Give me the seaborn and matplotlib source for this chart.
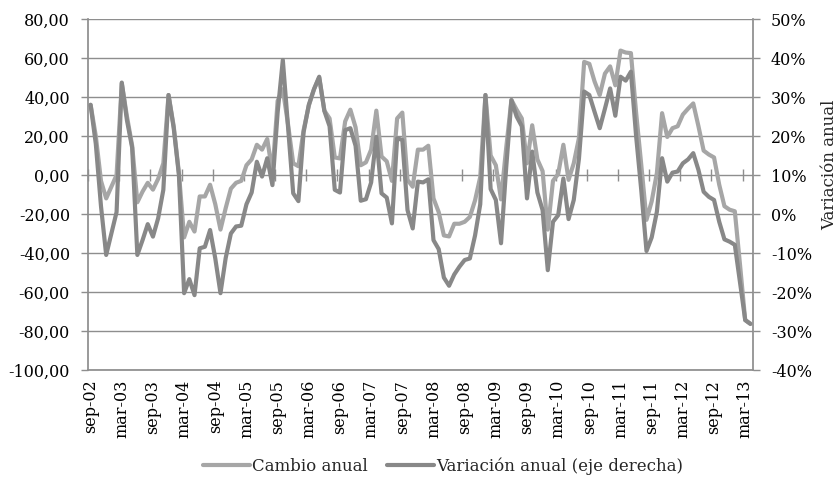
import matplotlib
matplotlib.use("Agg")
import matplotlib.pyplot as plt
import seaborn as sns
import pandas as pd
import numpy as np
from matplotlib.ticker import MultipleLocator, FuncFormatter

# ---------------- data ----------------
months = pd.date_range("2002-09-01", "2013-04-01", freq="MS")
categories = [d.strftime("%Y-%m") for d in months]

cambio_anual = [
    36, 20, -3, -12, -6, 0, 47, 30, 15, -14,
    -8.5, -4, -7.5, -2, 6, 41, 25, 1, -32, -24,
    -29, -11, -11, -5, -15, -28, -17, -7, -4, -3,
    5, 8, 15.5, 13, 18.5, 1, 38, 44, 26, 6,
    4.5, 23, 35.5, 44, 50, 33, 29, 9, 8.5, 27.5,
    33.5, 24.5, 5, 6.5, 13, 33, 9.5, 7, -3, 29,
    32, -2.5, -6, 13, 13, 15, -12, -19, -31, -31.5,
    -25, -25, -24, -21.5, -13, -1, 41, 10, 5, -12.5,
    14, 38.5, 33.5, 29, 6, 25.5, 8, 2, -28, -3,
    0.5, 15.5, -2.5, 6, 19, 58, 57, 48, 41, 52,
    55.7, 46, 63.8, 62.8, 62.5, 32, 5, -23, -13.5, 1,
    31.7, 19.5, 24, 25, 31, 34, 36.7, 25, 12.5, 10.5,
    9, -5, -16, -17.8, -18.6, -46, -74.4, -76.2,
]

variacion_anual = [
    28, 18, 2, -10.5, -5, 0.5, 33.7, 24, 17, -10.5,
    -6.7, -2.6, -5.8, -1.1, 6.2, 30.5, 22, 10, -20.3, -16.7,
    -20.8, -8.8, -8.4, -4.1, -11.4, -20.3, -11.3, -5, -3.2, -3,
    2.5, 5.5, 13.4, 9.6, 14.3, 7.4, 26, 39.5, 22.4, 5.3,
    3.3, 21, 28, 32, 35.2, 26.4, 22.5, 6.2, 5.5, 21.5,
    22, 17.5, 3.4, 3.8, 8.1, 19.8, 5.3, 4.2, -2.4, 19.4,
    19, 1, -3.7, 8.3, 8.1, 8.9, -6.7, -9, -16.3, -18.4,
    -15.5, -13.5, -11.8, -11.4, -5.5, 2.5, 30.5, 6.4, 3.6, -7.5,
    12, 29.2, 25, 22.5, 4, 16, 5.5, 1, -14.4, -2,
    -0.3, 9.1, -1.3, 3.6, 14.2, 31.4, 30.5, 26.2, 22, 27,
    32.2, 25.2, 35.2, 34.2, 36.5, 20, 6, -9.5, -6, 0.6,
    14.3, 8.3, 10.6, 10.9, 13, 14, 15.6, 11.3, 5.7, 4.4,
    3.6, -2, -6.5, -7.1, -7.9, -17.5, -27.2, -28.2,
]

tick_labels = ["sep-02", "mar-03", "sep-03", "mar-04", "sep-04", "mar-05",
               "sep-05", "mar-06", "sep-06", "mar-07", "sep-07", "mar-08",
               "sep-08", "mar-09", "sep-09", "mar-10", "sep-10", "mar-11",
               "sep-11", "mar-12", "sep-12", "mar-13"]

series_names = ["Cambio anual", "Variación anual (eje derecha)"]
right_title = "Variación anual"

# ---------------- style ----------------
LIGHT = "#a6a6a6"
DARK = "#888888"
GRID = "#8e8e8e"
FS = 11.5

sns.set_theme(style="white")
plt.rcParams['font.family'] = ['DejaVu Serif', 'DejaVu Sans']

df = pd.DataFrame({"idx": np.arange(len(categories)),
                   "cat": categories,
                   "cambio": cambio_anual,
                   "variacion": variacion_anual})

fig = plt.figure(figsize=(8.39, 4.86), dpi=100)
ax = fig.add_axes([88 / 839, 1 - 370 / 486, 665 / 839, 351 / 486])

sns.lineplot(data=df, x="idx", y="cambio", ax=ax, color=LIGHT, lw=3.0,
             legend=False)
ax2 = ax.twinx()
sns.lineplot(data=df, x="idx", y="variacion", ax=ax2, color=DARK, lw=3.0,
             legend=False)

n = len(categories)
ax.set_xlim(-0.5, n - 0.5)
ax.set_ylim(-100, 80)
ax2.set_ylim(-40, 50)

ax.yaxis.set_major_locator(MultipleLocator(20))
ax.yaxis.set_major_formatter(FuncFormatter(lambda v, p: f"{v:.2f}".replace(".", ",")))
ax2.yaxis.set_major_locator(MultipleLocator(10))
ax2.yaxis.set_major_formatter(FuncFormatter(lambda v, p: f"{v:.0f}%"))

ax.set_xticks(np.arange(0, n, 6))
ax.set_xticklabels(tick_labels, rotation=90)
ax.set_xlabel("")
ax.set_ylabel("")
ax2.set_ylabel("")

ax.grid(axis="y", color=GRID, lw=1.0)
ax.grid(axis="x", visible=False)
ax2.grid(False)

for a in (ax, ax2):
    for s in a.spines.values():
        s.set_visible(False)
ax.spines["left"].set_visible(True)
ax.spines["left"].set_color(GRID)
ax.spines["bottom"].set_visible(True)
ax.spines["bottom"].set_color(GRID)
ax2.spines["right"].set_visible(True)
ax2.spines["right"].set_color(GRID)

ax.tick_params(axis="x", length=0, pad=7, labelsize=FS, colors="black")
ax.tick_params(axis="y", left=True, length=5, width=1, color=GRID,
               direction="out", pad=8, labelsize=FS, labelcolor="black")
ax2.tick_params(axis="y", right=True, length=5, width=1, color=GRID,
                direction="out", pad=8, labelsize=FS, labelcolor="black")

# category axis crossing at 0 with tick marks between categories
secax = ax.secondary_xaxis(100 / 180)
secax.set_xticks(np.arange(-0.5, n, 6))
secax.tick_params(axis="x", direction="inout", length=8, width=1,
                  color=GRID, labelbottom=False, labeltop=False)
secax.spines["bottom"].set_color(GRID)
secax.spines["bottom"].set_linewidth(1.0)
for s in ("top", "left", "right"):
    if s in secax.spines:
        secax.spines[s].set_visible(False)

fig.text(821 / 839, 1 - 165 / 486, right_title, rotation=90,
         ha="left", va="center", fontsize=FS + 0.5)

handles = [ax.get_lines()[0], ax2.get_lines()[0]]
fig.legend(handles, series_names, loc="center",
           bbox_to_anchor=(443 / 839, 1 - 466 / 486), ncol=2, frameon=False,
           fontsize=FS + 0.5, handlelength=2.8, handletextpad=0.1,
           columnspacing=1.2)

fig.savefig("out.png", dpi=100)
